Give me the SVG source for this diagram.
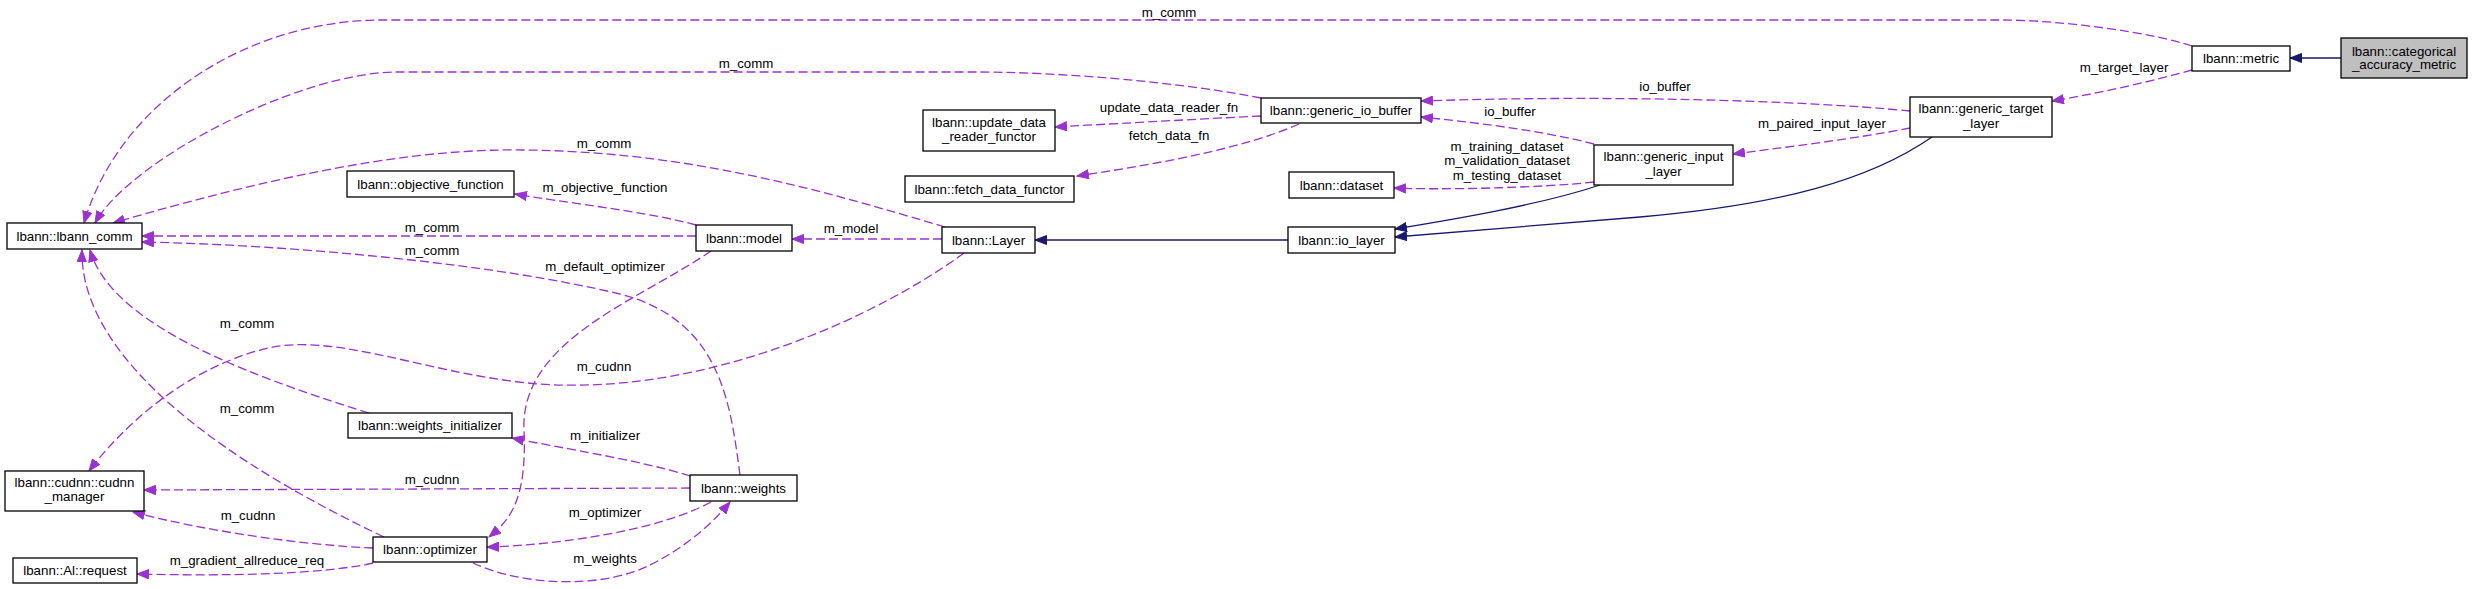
<svg xmlns="http://www.w3.org/2000/svg" width="2472" height="589" viewBox="0 0 2472 589">
<defs>
<style>
.nd rect{fill:#ffffff;stroke:#000000;stroke-width:1.3}
.nd text,.lb text{font-family:"Liberation Sans",Arial,sans-serif;font-size:13.3px;fill:#000000;text-anchor:middle}
.e{fill:none;stroke:#9a32cd;stroke-width:1.3;stroke-dasharray:9,4;marker-end:url(#ap)}
.i{fill:none;stroke:#191970;stroke-width:1.3;marker-end:url(#ab)}
</style>
<marker id="ap" viewBox="0 0 13 10" refX="12" refY="5" markerWidth="13" markerHeight="10" markerUnits="userSpaceOnUse" orient="auto"><path d="M0.5,0.5 L12,5 L0.5,9.5 z" fill="#9a32cd" stroke="#9a32cd" stroke-width="1"/></marker>
<marker id="ab" viewBox="0 0 13 10" refX="12" refY="5" markerWidth="13" markerHeight="10" markerUnits="userSpaceOnUse" orient="auto"><path d="M0.5,0.5 L12,5 L0.5,9.5 z" fill="#191970" stroke="#191970" stroke-width="1"/></marker>
</defs>
<rect width="2472" height="589" fill="#ffffff"/>
<g id="connectors">
<path class="e" d="M2192,46 C2150,32 2060,20 2001,20 L382,20 C250,20 120,100 84,223"/>
<path class="e" d="M1261,98 C1180,82 1060,72 977,72 L397,72 C300,72 130,160 95,223"/>
<path class="e" d="M945,227 C820,190 680,148 500,150 C390,152 260,180 113,223"/>
<path class="e" d="M696,236 L142,236"/>
<path class="e" d="M740,475 C730,400 720,320 620,294 C500,265 300,245 142,242"/>
<path class="e" d="M369,413 C230,370 110,320 90,250"/>
<path class="e" d="M384,537 C180,440 80,340 82,250"/>
<path class="e" d="M696,225 C650,212 560,202 515,194"/>
<path class="e" d="M711,251 C640,300 520,340 524,430 C527,500 510,520 489,537"/>
<path class="e" d="M942,239 L792,239"/>
<path class="e" d="M964,253 C880,315 700,400 528,383 C420,372 330,330 260,350 C180,372 120,430 89,471"/>
<path class="e" d="M690,488 L144,490"/>
<path class="e" d="M373,548 C300,545 200,530 133,512"/>
<path class="e" d="M373,563 C320,575 220,576 137,574"/>
<path class="e" d="M690,476 C640,460 560,448 512,438"/>
<path class="e" d="M711,502 C660,530 560,545 487,547"/>
<path class="e" d="M473,563 C520,585 600,590 650,565 C690,545 715,520 730,502"/>
<path class="e" d="M1261,116 C1180,120 1110,124 1055,127"/>
<path class="e" d="M1299,124 C1240,150 1150,165 1077,176"/>
<path class="e" d="M1594,144 C1540,130 1470,122 1421,117"/>
<path class="e" d="M1594,182 C1540,188 1440,190 1394,188"/>
<path class="e" d="M1910,111 C1800,100 1600,95 1421,101"/>
<path class="e" d="M1910,128 C1860,138 1780,148 1733,154"/>
<path class="e" d="M2192,70 C2150,82 2090,95 2052,101"/>
<path class="i" d="M2341,58 L2290,58"/>
<path class="i" d="M1288,240 L1035,240"/>
<path class="i" d="M1600,185 C1540,205 1450,220 1395,229"/>
<path class="i" d="M1932,137 C1870,180 1780,205 1640,217 C1550,225 1460,232 1395,237"/>
</g>
<g class="lb">
<text x="1169" y="17">m_comm</text>
<text x="746" y="68">m_comm</text>
<text x="604" y="148">m_comm</text>
<text x="605" y="192">m_objective_function</text>
<text x="432" y="232">m_comm</text>
<text x="432" y="255">m_comm</text>
<text x="605" y="271">m_default_optimizer</text>
<text x="247" y="328">m_comm</text>
<text x="247" y="413">m_comm</text>
<text x="604" y="371">m_cudnn</text>
<text x="605" y="440">m_initializer</text>
<text x="432" y="484">m_cudnn</text>
<text x="248" y="520">m_cudnn</text>
<text x="605" y="517">m_optimizer</text>
<text x="247" y="565">m_gradient_allreduce_req</text>
<text x="605" y="563">m_weights</text>
<text x="1169" y="112">update_data_reader_fn</text>
<text x="1169" y="140">fetch_data_fn</text>
<text x="1510" y="116">io_buffer</text>
<text x="1507" y="151">m_training_dataset</text>
<text x="1507" y="165">m_validation_dataset</text>
<text x="1507" y="180">m_testing_dataset</text>
<text x="851" y="233">m_model</text>
<text x="1665" y="91">io_buffer</text>
<text x="1822" y="128">m_paired_input_layer</text>
<text x="2124" y="72">m_target_layer</text>
</g>
<g id="n_comm" class="nd"><rect x="7" y="223" width="135" height="26"/><text x="74.5" y="240.5">lbann::lbann_comm</text></g>
<g id="n_objfn" class="nd"><rect x="347" y="171" width="167" height="26"/><text x="430.5" y="188.5">lbann::objective_function</text></g>
<g id="n_model" class="nd"><rect x="696" y="225" width="96" height="26"/><text x="744" y="242.5">lbann::model</text></g>
<g id="n_winit" class="nd"><rect x="348" y="413" width="164" height="25"/><text x="430" y="430">lbann::weights_initializer</text></g>
<g id="n_cudnn" class="nd"><rect x="5" y="471" width="139" height="40"/><text x="74.5" y="487">lbann::cudnn::cudnn</text><text x="74.5" y="501">_manager</text></g>
<g id="n_weights" class="nd"><rect x="690" y="475" width="107" height="26"/><text x="743.5" y="492.5">lbann::weights</text></g>
<g id="n_opt" class="nd"><rect x="373" y="537" width="114" height="25"/><text x="430" y="554">lbann::optimizer</text></g>
<g id="n_req" class="nd"><rect x="13" y="558" width="124" height="25"/><text x="75" y="575">lbann::Al::request</text></g>
<g id="n_gib" class="nd"><rect x="1261" y="98" width="160" height="25"/><text x="1341" y="115">lbann::generic_io_buffer</text></g>
<g id="n_udr" class="nd"><rect x="923" y="110" width="132" height="41"/><text x="989" y="127">lbann::update_data</text><text x="989" y="141">_reader_functor</text></g>
<g id="n_fdf" class="nd"><rect x="905" y="176" width="169" height="26"/><text x="989.5" y="193.5">lbann::fetch_data_functor</text></g>
<g id="n_dataset" class="nd"><rect x="1289" y="172" width="105" height="26"/><text x="1341.5" y="189.5">lbann::dataset</text></g>
<g id="n_gil" class="nd"><rect x="1594" y="145" width="139" height="40"/><text x="1663.5" y="161">lbann::generic_input</text><text x="1663.5" y="176">_layer</text></g>
<g id="n_layer" class="nd"><rect x="942" y="227" width="93" height="26"/><text x="988.5" y="244.5">lbann::Layer</text></g>
<g id="n_iol" class="nd"><rect x="1288" y="227" width="107" height="26"/><text x="1341.5" y="244.5">lbann::io_layer</text></g>
<g id="n_gtl" class="nd"><rect x="1910" y="97" width="142" height="40"/><text x="1981" y="113">lbann::generic_target</text><text x="1981" y="128">_layer</text></g>
<g id="n_metric" class="nd"><rect x="2192" y="46" width="98" height="25"/><text x="2241" y="63">lbann::metric</text></g>
<g id="n_cat" class="nd"><rect x="2341" y="38" width="126" height="40" style="fill:#bfbfbf"/><text x="2404" y="55.5">lbann::categorical</text><text x="2404" y="69">_accuracy_metric</text></g>
</svg>
